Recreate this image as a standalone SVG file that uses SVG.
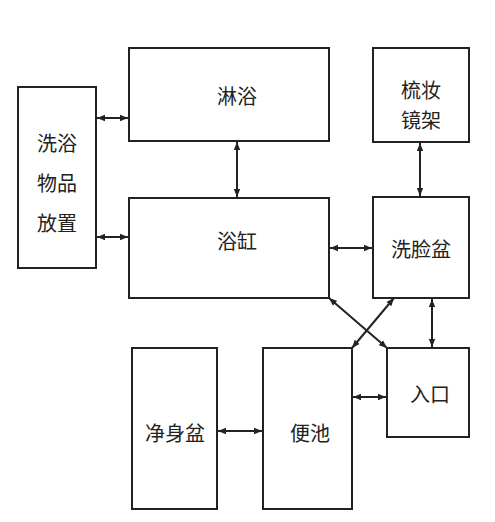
<svg xmlns="http://www.w3.org/2000/svg" width="495" height="522" viewBox="0 0 495 522">
<style>
.box{fill:#fff;stroke:#222;stroke-width:2}
.t{font-family:"Noto Sans CJK SC","Noto Sans CJK JP",sans-serif;font-size:20px;fill:#222;text-anchor:middle;dominant-baseline:central}
.c{stroke:#222;stroke-width:2;fill:none;marker-start:url(#ah);marker-end:url(#ah)}
</style>
<defs>
<marker id="ah" viewBox="0 0 10 10" refX="10" refY="5" markerWidth="4" markerHeight="4" orient="auto-start-reverse">
<path d="M0,1 L10,5 L0,9 Z" fill="#222"/>
</marker>
</defs>
<rect width="495" height="522" fill="#fff"/>
<g id="connectors">
<line class="c" x1="97" y1="118" x2="128" y2="118"/>
<line class="c" x1="97" y1="237" x2="128" y2="237"/>
<line class="c" x1="237" y1="142" x2="237" y2="197"/>
<line class="c" x1="420" y1="143" x2="420" y2="196"/>
<line class="c" x1="330" y1="248" x2="372" y2="248"/>
<line class="c" x1="432" y1="299" x2="432" y2="347"/>
<line class="c" x1="353" y1="397" x2="386" y2="397"/>
<line class="c" x1="218" y1="431" x2="262" y2="431"/>
<line class="c" x1="329" y1="298" x2="387" y2="348"/>
<line class="c" x1="394" y1="298" x2="352" y2="348"/>
</g>
<g id="xiyu-wupin"><rect class="box" x="18" y="87" width="78" height="181"/>
<text class="t" x="57" y="142">洗浴</text><text class="t" x="57" y="182">物品</text><text class="t" x="57" y="222">放置</text></g>
<g id="linyu"><rect class="box" x="129" y="48" width="200" height="93"/><text class="t" x="237" y="95">淋浴</text></g>
<g id="yugang"><rect class="box" x="129" y="198" width="200" height="100"/><text class="t" x="237" y="240">浴缸</text></g>
<g id="shuzhuang"><rect class="box" x="373" y="48" width="96" height="94"/>
<text class="t" x="421" y="89">梳妆</text><text class="t" x="421" y="119">镜架</text></g>
<g id="xilianpen"><rect class="box" x="373" y="197" width="96" height="101"/><text class="t" x="421" y="248">洗脸盆</text></g>
<g id="rukou"><rect class="box" x="387" y="348" width="82" height="89"/><text class="t" x="430" y="393">入口</text></g>
<g id="bianchi"><rect class="box" x="263" y="348" width="89" height="161"/><text class="t" x="310" y="432">便池</text></g>
<g id="jingshenpen"><rect class="box" x="132" y="348" width="85" height="161"/><text class="t" x="175" y="432">净身盆</text></g>
</svg>
